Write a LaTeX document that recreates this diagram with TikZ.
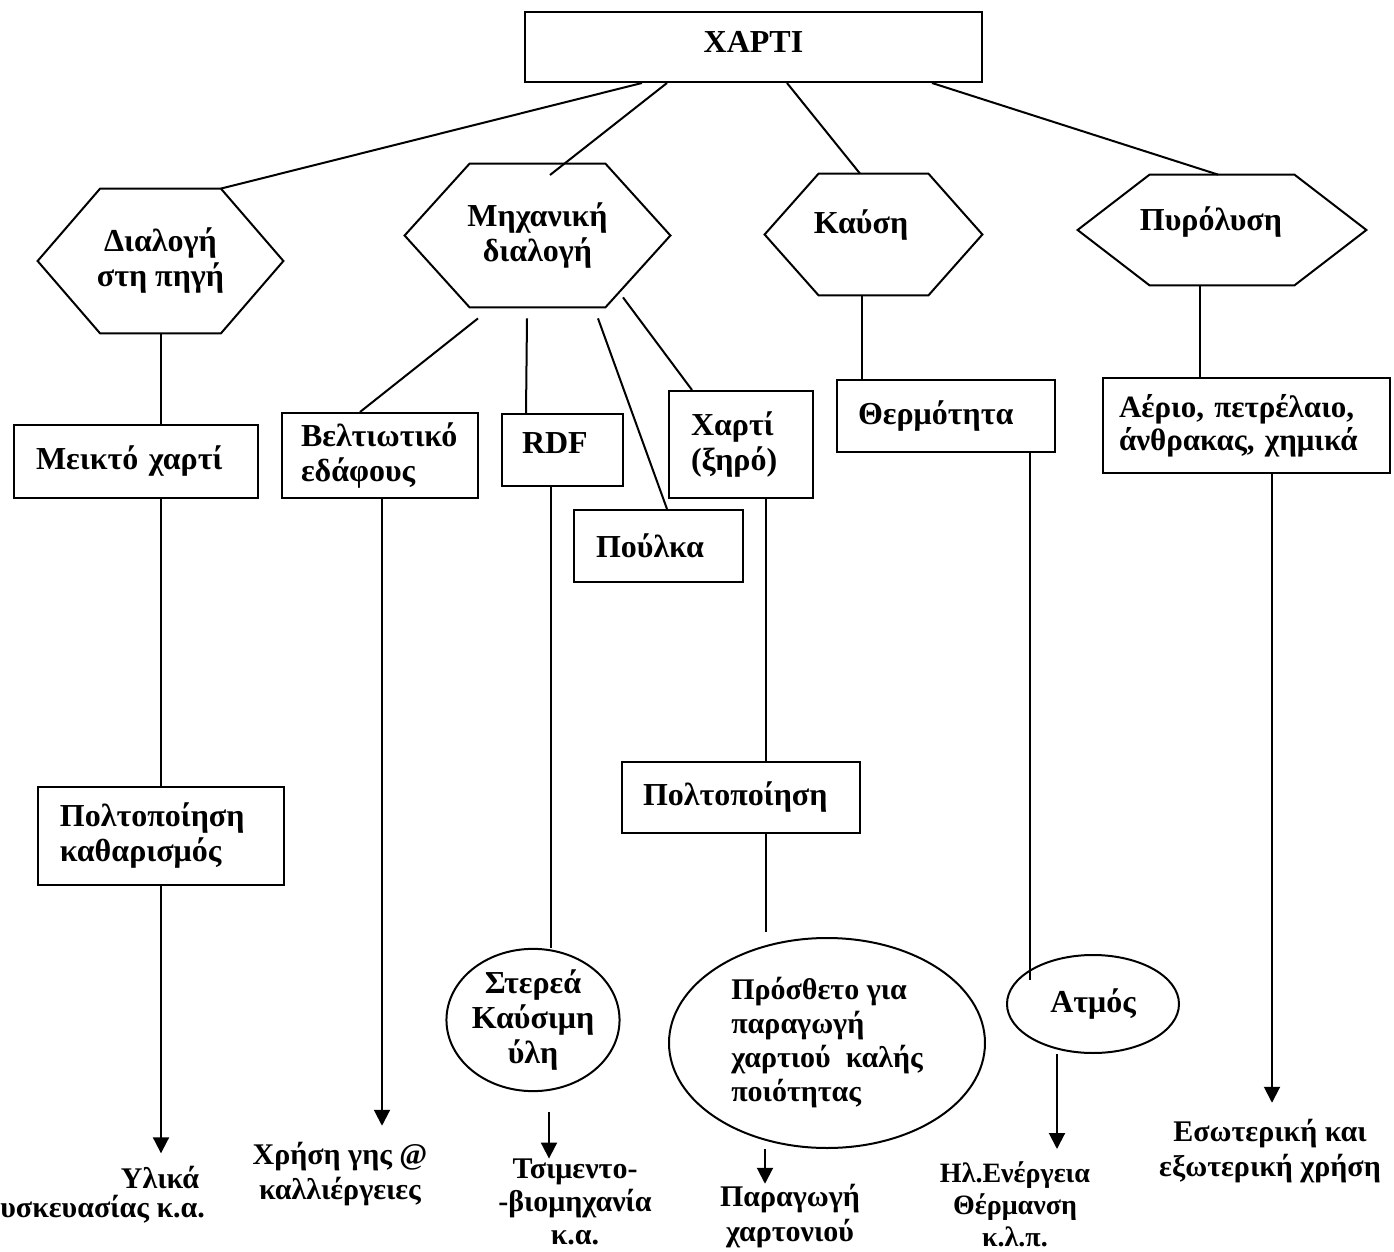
\documentclass[tikz,border=0pt]{standalone}
\usepackage{fontspec}
\setmainfont{Liberation Serif}
\usetikzlibrary{arrows.meta,calc,shapes.geometric}

% outline of a wide hexagon filling the bounding box of node #1,
% with the pointed ends reaching #2 units in from the corners
\newcommand\hexframe[2]{%
  \draw[wire] ($(#1.north west)+(#2,0)$) -- ($(#1.north east)+(-#2,0)$)
    -- (#1.east) -- ($(#1.south east)+(-#2,0)$)
    -- ($(#1.south west)+(#2,0)$) -- (#1.west) -- cycle;}

\begin{document}
\begin{tikzpicture}[x=0.5pt,y=-0.5pt,
  every node/.style={font=\bfseries\fontsize{16}{17.5}\selectfont, inner sep=0pt},
  wire/.style={line width=1pt},
  arrowwire/.style={wire,-{Triangle[width=8pt,length=8pt]}},
  box/.style={draw, line width=1pt, align=left, inner xsep=11pt},
  oval/.style={draw, ellipse, line width=1pt, inner sep=0pt},
  hexa/.style={align=center},
  plain/.style={align=center, font=\bfseries\fontsize{15}{17.5}\selectfont},
  small/.style={font=\bfseries\fontsize{14}{16}\selectfont}
]
\useasboundingbox[fill=white] (0,0) rectangle (1394,1252);

% top
\node[box, align=center, inner xsep=0pt, text depth=5pt, minimum width=228.5pt, minimum height=35pt] (xarti) at (753.5,47) {ΧΑΡΤΙ};

% process hexagons
\node[hexa, minimum width=122.5pt, minimum height=72pt] (dial) at (160.5,261) {Διαλογή\\στη πηγή};
\hexframe{dial}{62.5}
\node[hexa, minimum width=132.5pt, minimum height=71.5pt] (mech) at (537.5,235.5) {Μηχανική\\διαλογή};
\hexframe{mech}{65}
\node[minimum width=108.5pt, minimum height=60.5pt] (kaf) at (873.5,234.5) {};
\hexframe{kaf}{54}
\node[align=center] (kaf-text) at (861,225) {Καύση};
\node[minimum width=144pt, minimum height=55pt] (pyr) at (1222,230) {};
\hexframe{pyr}{72}
\node[align=center] (pyr-text) at (1211,222) {Πυρόλυση};

% products
\node[box, text width=100pt, minimum height=36.5pt] (meikto) at (136,461.5) {Μεικτό~χαρτί};
\node[box, inner xsep=9.5pt, text width=79pt, minimum height=42.5pt] (veltio) at (380,455.5) {Βελτιωτικό\\εδάφους};
\node[box, inner xsep=10pt, text width=40.5pt, text depth=7pt, minimum height=36pt] (rdf) at (562.5,450) {RDF};
\node[box, text width=62.5pt, minimum height=36pt] (poulka) at (658.5,546) {Πούλκα};
\node[box, text width=50pt, minimum height=53.5pt] (xartixiro) at (741,444.5) {Χαρτί\\(ξηρό)};
\node[box, inner xsep=10.5pt, text width=88pt, minimum height=36pt] (thermo) at (946,416) {Θερμότητα};
\node[box, inner xsep=8pt, text width=127.5pt, minimum height=47.5pt,
      font=\bfseries\fontsize{15.5}{16.5}\selectfont] (aerio) at (1246.5,425.5) {Αέριο,~πετρέλαιο,\\άνθρακας,~χημικά};

% treatment
\node[box, text width=101pt, minimum height=49pt] (polt1) at (161,836) {Πολτοποίηση\\καθαρισμός};
\node[box, inner xsep=10.5pt, text width=98pt, minimum height=35.5pt] (polt2) at (741,797.5) {Πολτοποίηση};

% intermediate products
\node[oval, align=center, minimum width=78pt, minimum height=70pt] (sterea) at (533,1020) {Στερεά\\Καύσιμη\\ύλη};
\node[oval, align=left, minimum width=158pt, minimum height=105pt,
      font=\bfseries\fontsize{15}{17}\selectfont] (prostheto) at (827,1043) {Πρόσθετο για\\παραγωγή\\χαρτιού~~καλής\\ποιότητας};
\node[oval, align=center, minimum width=86pt, minimum height=49pt] (atmos) at (1093,1004) {Ατμός};

% end uses
\node[plain] (yli1) at (160,1177) {Υλικά};
\node[plain, anchor=west] (yli2) at (0,1209) {υσκευασίας κ.α.};
\node[plain] (xrisi) at (340,1174) {Χρήση γης @\\καλλιέργειες};
\node[plain, font=\bfseries\fontsize{15}{16.5}\selectfont] (tsim) at (575,1202) {Τσιμεντο-\\-βιομηχανία\\κ.α.};
\node[plain] (parag) at (790,1216) {Παραγωγή\\χαρτονιού};
\node[plain, small] (ilen) at (1015,1204) {Ηλ.Ενέργεια\\Θέρμανση\\κ.λ.π.};
\node[plain] (eso) at (1270,1151) {Εσωτερική και\\εξωτερική χρήση};

% links from the top box
\coordinate (dial-tr) at ($(dial.north east)+(-62.5,0)$);
\draw[wire] ($(xarti.south west)+(118,0)$) -- (dial-tr);
\draw[wire] ($(xarti.south west)+(143,0)$) -- ($(mech.center)+(12.5,-60.5)$);
\draw[wire] ($(xarti.south west)+(263,0)$) -- ($(kaf.north)+(-13.5,0)$);
\draw[wire] ($(xarti.south west)+(408,0)$) -- ($(pyr.north)+(-4,0)$);

% links from the hexagons
\draw[wire] (dial.south) -- (dial.south |- meikto.north);
\draw[wire] ($(mech.south)+(-59.5,11)$) -- ($(veltio.north west)+(79,0)$);
\draw[wire] ($(mech.south)+(-10.5,11)$) -- ($(rdf.north west)+(25,0)$);
\draw[wire] ($(mech.south)+(60.5,11)$) -- ($(poulka.north west)+(94,0)$);
\draw[wire] ($(mech.south)+(85.5,-10)$) -- ($(xartixiro.north west)+(24,0)$);
\coordinate (k1) at ($(kaf.south)+(-11.5,0)$);
\draw[wire] (k1) -- (k1 |- thermo.north);
\coordinate (p1) at ($(pyr.south)+(-22,0)$);
\draw[wire] (p1) -- (p1 |- aerio.north);

% downstream chains
\draw[wire] (polt1.north |- meikto.south) -- (polt1.north);
\draw[arrowwire, shorten >=6pt] (polt1.south) -- (polt1.south |- yli1.north);

\coordinate (v1) at ($(veltio.south)+(2,0)$);
\draw[arrowwire, shorten >=8pt] (v1) -- (v1 |- xrisi.north);

\coordinate (r1) at ($(rdf.south)+(-11.5,0)$);
\draw[wire] (r1) -- (r1 |- sterea.north);
\coordinate (s1) at ($(sterea.south)+(16,20)$);
\draw[arrowwire] (s1) -- (s1 |- tsim.north);

\coordinate (x1) at ($(xartixiro.south)+(25,0)$);
\draw[wire] (x1) -- (x1 |- polt2.north);
\coordinate (x2) at ($(polt2.south)+(25,0)$);
\draw[wire, shorten >=2.5pt] (x2) -- (x2 |- prostheto.north);
\coordinate (x3) at ($(prostheto.south)+(-62,0)$);
\draw[arrowwire] (x3) -- (x3 |- parag.north);

\coordinate (t1) at ($(thermo.south)+(84,0)$);
\draw[wire] (t1) -- ($(t1 |- atmos.center)+(0,-24)$);
\coordinate (a1) at ($(atmos.south)+(-36,0)$);
\draw[arrowwire, shorten >=6pt] (a1) -- (a1 |- ilen.north);

\coordinate (e1) at ($(aerio.south)+(25.5,0)$);
\draw[arrowwire, shorten >=8pt] (e1) -- (e1 |- eso.north);
\end{tikzpicture}
\end{document}
